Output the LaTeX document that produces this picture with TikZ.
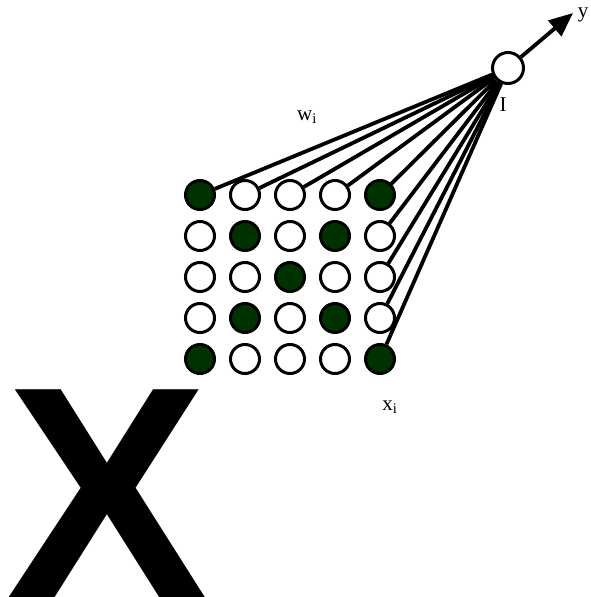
\documentclass[tikz,border=0pt]{standalone}
\usepackage{fontspec}
\usepackage{tikz}
\usetikzlibrary{arrows.meta}
\setmainfont{Liberation Serif}
\newfontfamily\bigsans{Liberation Sans}
\definecolor{cellgreen}{RGB}{0,50,0}

\begin{document}
\begin{tikzpicture}[x=1pt, y=-1pt,
    cell/.style={draw, circle, line width=3pt, fill=white, minimum size=29pt, inner sep=0pt},
    oncell/.style={cell, fill=cellgreen},
    wire/.style={line width=3.8pt},
    lbl/.style={font=\fontsize{21}{24}\selectfont, inner sep=0pt}]
    \useasboundingbox (0,0) rectangle (591,597);

    % input grid, the letter X
    \node[oncell] (c11) at (200,195) {};
    \node[cell]   (c12) at (245,195) {};
    \node[cell]   (c13) at (290,195) {};
    \node[cell]   (c14) at (335,195) {};
    \node[oncell] (c15) at (380,195) {};
    \node[cell]   (c21) at (200,236) {};
    \node[oncell] (c22) at (245,236) {};
    \node[cell]   (c23) at (290,236) {};
    \node[oncell] (c24) at (335,236) {};
    \node[cell]   (c25) at (380,236) {};
    \node[cell]   (c31) at (200,277) {};
    \node[cell]   (c32) at (245,277) {};
    \node[oncell] (c33) at (290,277) {};
    \node[cell]   (c34) at (335,277) {};
    \node[cell]   (c35) at (380,277) {};
    \node[cell]   (c41) at (200,318) {};
    \node[oncell] (c42) at (245,318) {};
    \node[cell]   (c43) at (290,318) {};
    \node[oncell] (c44) at (335,318) {};
    \node[cell]   (c45) at (380,318) {};
    \node[oncell] (c51) at (200,359) {};
    \node[cell]   (c52) at (245,359) {};
    \node[cell]   (c53) at (290,359) {};
    \node[cell]   (c54) at (335,359) {};
    \node[oncell] (c55) at (380,359) {};

    % output unit
    \node[cell, minimum size=31pt] (unitI) at (508,68) {};
    \coordinate (yend) at (573,13);

    % weights
    \draw[wire] (c11) -- (unitI);
    \draw[wire] (c12) -- (unitI);
    \draw[wire] (c13) -- (unitI);
    \draw[wire] (c14) -- (unitI);
    \draw[wire] (c15) -- (unitI);
    \draw[wire] (c25) -- (unitI);
    \draw[wire] (c35) -- (unitI);
    \draw[wire] (c45) -- (unitI);
    \draw[wire] (c55) -- (unitI);
    \draw[wire, -{Triangle[length=24pt, width=20pt]}] (unitI) -- (yend);

    % labels
    \node[lbl] (wlbl) at (307,117) {w\textsubscript{i}};
    \node[lbl] (ilbl) at (503,105) {I};
    \node[lbl] (ylbl) at (583,15) {y};
    \node[lbl] (xlbl) at (390,407) {x\textsubscript{i}};
    \node[inner sep=0pt, anchor=base, font=\bigsans\bfseries\fontsize{302}{310}\selectfont] (bigx) at (107,597) {X};
\end{tikzpicture}
\end{document}
